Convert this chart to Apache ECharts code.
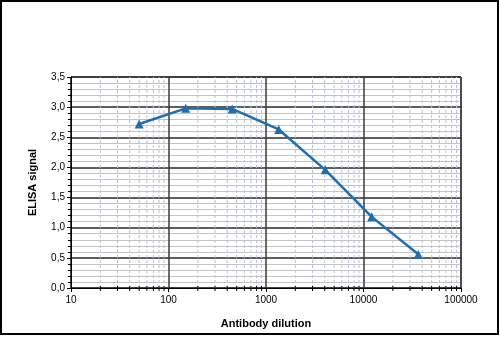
<!DOCTYPE html>
<html>
<head>
<meta charset="utf-8">
<script src="https://cdn.jsdelivr.net/npm/echarts@6/dist/echarts.min.js"></script>
<style>
  html, body { margin: 0; padding: 0; background: #fff; }
  #chart { width: 500px; height: 337px; }
</style>
</head>
<body>
<div id="chart"></div>
<script>
// Antibody dilution series (3-fold steps) and measured ELISA signal
const dilutions = [50, 150, 450, 1350, 4050, 12150, 36450];
const signal = [2.72, 2.98, 2.97, 2.63, 1.96, 1.18, 0.56];

// Log axis layout: decades and the intermediate minor positions
const decades = [10, 100, 1000, 10000];
const minorSteps = [2, 3, 4, 5, 6, 7, 8, 9];
const minorX = [];
decades.forEach(d => minorSteps.forEach(m => minorX.push(d * m)));

const yMax = 3.5;
const font = '"Liberation Sans", Arial, sans-serif';

const chart = echarts.init(document.getElementById('chart'), null, { renderer: 'canvas' });

chart.setOption({
  animation: false,
  backgroundColor: '#ffffff',
  grid: { left: 71, right: 39, top: 77, bottom: 49, show: true, borderColor: '#000', borderWidth: 1, backgroundColor: 'transparent' },
  xAxis: {
    type: 'log',
    logBase: 10,
    min: 10,
    max: 100000,
    name: 'Antibody dilution',
    nameLocation: 'middle',
    nameGap: 30,
    nameTextStyle: { fontFamily: font, fontSize: 11, fontWeight: 'bold', color: '#000' },
    axisLine: { show: true, lineStyle: { color: '#000', width: 1 } },
    axisTick: { show: true, length: 4, lineStyle: { color: '#000' } },
    axisLabel: { fontFamily: font, fontSize: 10, color: '#000', margin: 7, formatter: v => String(Math.round(v)) },
    splitLine: { show: true, lineStyle: { color: '#3a3a3a', width: 1.5 } }
  },
  yAxis: {
    type: 'value',
    min: 0,
    max: yMax,
    interval: 0.5,
    name: 'ELISA signal',
    nameLocation: 'middle',
    nameGap: 33,
    nameTextStyle: { fontFamily: font, fontSize: 11, fontWeight: 'bold', color: '#000' },
    axisLine: { show: true, lineStyle: { color: '#000', width: 1 } },
    axisTick: { show: true, length: 4, lineStyle: { color: '#000' } },
    minorTick: { show: true, splitNumber: 5, length: 3, lineStyle: { color: '#000' } },
    axisLabel: {
      fontFamily: font, fontSize: 10, color: '#000', margin: 6,
      formatter: v => v.toFixed(1).replace('.', ',')
    },
    splitLine: { show: true, lineStyle: { color: '#2a2a2a', width: 1.5 } },
    minorSplitLine: { show: true, lineStyle: { color: '#c4c4c4', width: 1 } }
  },
  graphic: [{
    type: 'rect',
    shape: { x: 1, y: 1, width: 497, height: 333 },
    style: { fill: 'none', stroke: '#000', lineWidth: 2 },
    silent: true,
    z: 100
  }],
  series: [
    {
      // minor vertical gridlines and tick marks of the log x axis
      type: 'custom',
      silent: true,
      z: 1,
      data: minorX.map(v => [v, 0]),
      renderItem: (params, api) => {
        const v = api.value(0);
        const b = api.coord([v, 0]);
        const t = api.coord([v, yMax]);
        return {
          type: 'group',
          children: [
            { type: 'line', shape: { x1: b[0], y1: b[1], x2: t[0], y2: t[1] },
              style: { stroke: '#b7c3da', lineWidth: 1, lineDash: [3, 2] } },
            { type: 'line', shape: { x1: b[0], y1: b[1] - 2, x2: b[0], y2: b[1] + 3 },
              style: { stroke: '#000', lineWidth: 1 } }
          ]
        };
      }
    },
    {
      type: 'line',
      z: 5,
      data: dilutions.map((d, i) => [d, signal[i]]),
      symbol: 'triangle',
      symbolSize: 9,
      lineStyle: { color: '#1f6eaf', width: 2.5 },
      itemStyle: { color: '#1f6eaf' }
    }
  ]
});
</script>
</body>
</html>
